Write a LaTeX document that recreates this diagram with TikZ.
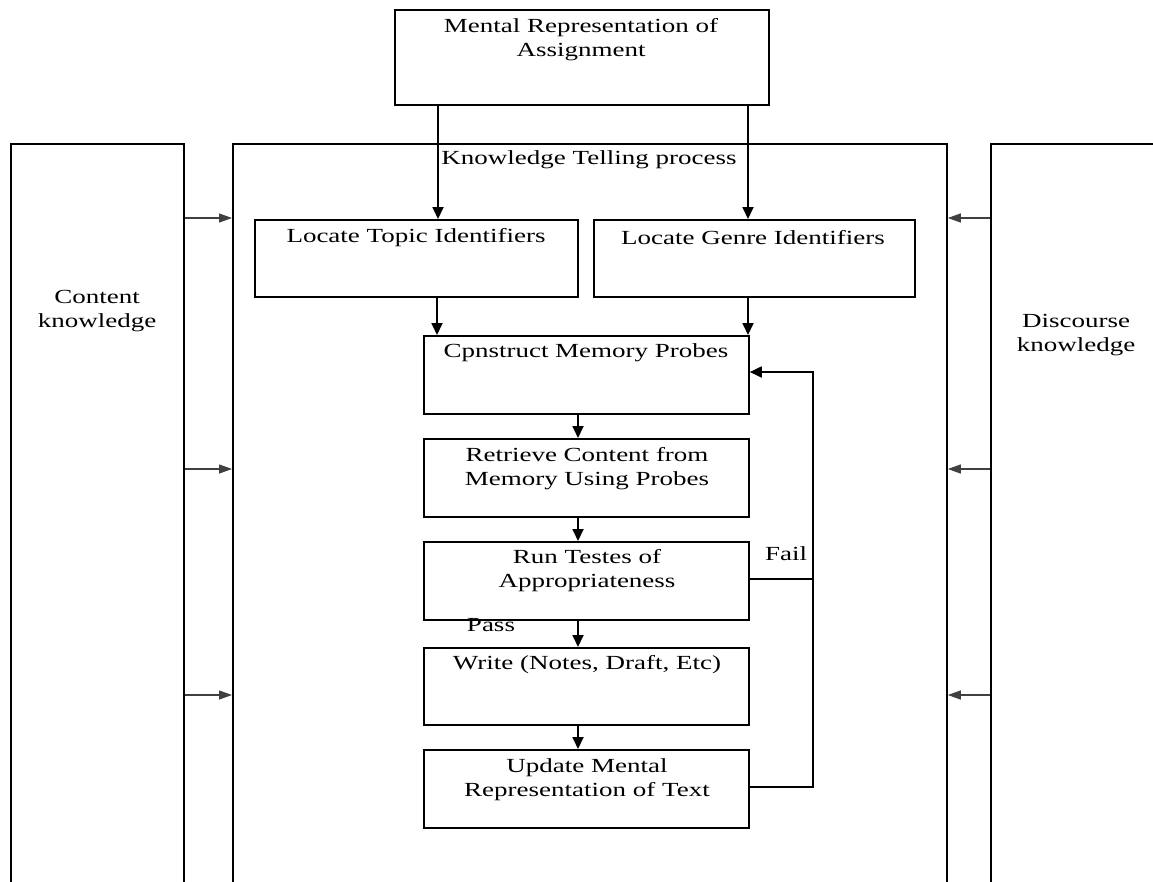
\documentclass[tikz,border=0pt]{standalone}
\usepackage{fontspec}
\setmainfont[FakeStretch=1.35]{Liberation Serif}
\usetikzlibrary{arrows.meta,calc}
\begin{document}
\begin{tikzpicture}[x=1pt,y=-1pt,
  box/.style={draw, line width=1.8pt, anchor=north west, inner sep=0pt},
  txt/.style={font=\fontsize{20}{24}\selectfont, align=center, inner sep=0pt},
  arr/.style={line width=1.8pt, -{Triangle[length=12pt,width=11pt]}},
  sarr/.style={line width=1.3pt, black!75, -{Triangle[length=13pt,width=9pt]}},
  fb/.style={line width=1.8pt}]
\useasboundingbox (0,0) rectangle (1153,881);
\begin{scope}
\clip (0,0) rectangle (1153,881);
% tall side boxes and main frame
\node[box, minimum width=173pt, minimum height=780pt] (cont) at (10,143) {};
\node[box, minimum width=714pt, minimum height=780pt] (main) at (232,143) {};
\node[box, minimum width=190pt, minimum height=780pt] (disc) at (990,143) {};
\end{scope}
% boxes
\node[box, minimum width=374pt, minimum height=95pt] (mra) at (394,9) {};
\node[box, minimum width=323pt, minimum height=77pt] (topic) at (254,219) {};
\node[box, minimum width=321pt, minimum height=77pt] (genre) at (593,219) {};
\node[box, minimum width=325pt, minimum height=78pt] (cons) at (423,335) {};
\node[box, minimum width=325pt, minimum height=78pt] (retr) at (423,438) {};
\node[box, minimum width=325pt, minimum height=78pt] (run) at (423,541) {};
\node[box, minimum width=325pt, minimum height=77pt] (write) at (423,647) {};
\node[box, minimum width=325pt, minimum height=78pt] (upd) at (423,749) {};
% texts
\node[txt] (tmra) at (581,40) {Mental Representation of\\Assignment};
\node[txt] (tktp) at (589,160) {Knowledge Telling process};
\node[txt] (ttopic) at (416,238) {Locate Topic Identifiers};
\node[txt] (tgenre) at (753,238) {Locate Genre Identifiers};
\node[txt] (tcons) at (586,353) {Cpnstruct Memory Probes};
\node[txt] (tretr) at (587,469) {Retrieve Content from\\Memory Using Probes};
\node[txt] (trun) at (587,571) {Run Testes of\\Appropriateness};
\node[txt] (twrite) at (587,665) {Write (Notes, Draft, Etc)};
\node[txt] (tupd) at (587,780) {Update Mental\\Representation of Text};
\node[txt] (tcont) at (97,311) {Content\\knowledge};
\node[txt] (tdisc) at (1076,335) {Discourse\\knowledge};
\node[txt] (tfail) at (786,554) {Fail};
\node[txt] (tpass) at (491,625) {Pass};
% main arrows
\draw[arr] (438,0 |- mra.south) -- (438,0 |- topic.north);
\draw[arr] (748,0 |- mra.south) -- (748,0 |- genre.north);
\draw[arr] (437,0 |- topic.south) -- (437,0 |- cons.north);
\draw[arr] (748,0 |- genre.south) -- (748,0 |- cons.north);
\draw[arr] (578,0 |- cons.south) -- (578,0 |- retr.north);
\draw[arr] (578,0 |- retr.south) -- (578,0 |- run.north);
\draw[arr] (578,0 |- run.south) -- (578,0 |- write.north);
\draw[arr] (578,0 |- write.south) -- (578,0 |- upd.north);
% side arrows
\foreach \yy in {218,469,695} {
  \draw[sarr] (cont.east |- 0,\yy) -- (main.west |- 0,\yy);
  \draw[sarr] (disc.west |- 0,\yy) -- (main.east |- 0,\yy);
}
% feedback loop
\coordinate (fbtop) at (813,372);
\draw[fb] (run.east |- 0,579) -- (fbtop |- 0,579);
\draw[fb, -{Triangle[length=12pt,width=11pt]}] (upd.east |- 0,787) -| (fbtop) -- (cons.east |- fbtop);
\end{tikzpicture}
\end{document}
